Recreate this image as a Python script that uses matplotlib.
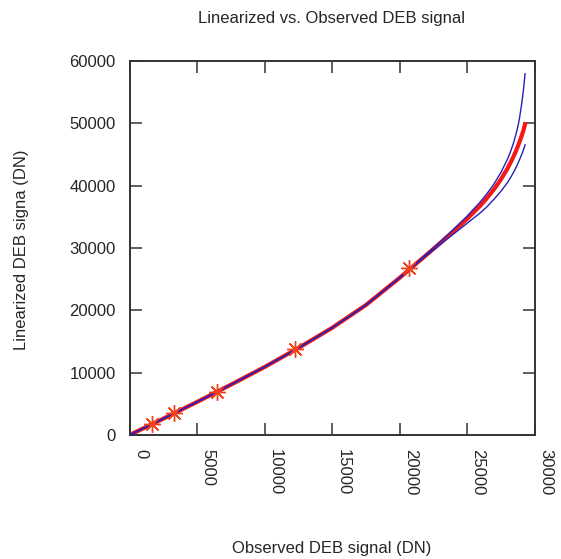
import matplotlib
matplotlib.use("Agg")
import matplotlib.transforms as mtransforms
from matplotlib import pyplot as plt

# points
obs_pts = [1640, 3310, 6450, 12290, 20670]
lin_pts = [1720, 3480, 6950, 13800, 26800]

# fitted curve (red) and the two bounding curves (blue)
obs_fit = [0, 1000, 2500, 5000, 7500, 10000, 12500, 15000, 17500, 20000,
           21000, 22000, 23000, 24000, 25000, 26000, 26500, 27000, 27500,
           28000, 28150, 28300, 28450, 28600, 28700, 28800, 28900, 29000,
           29075, 29150, 29225, 29300]
lin_fit = [0, 1042, 2610, 5300, 8060, 10900, 13940, 17180, 20830, 25200,
           27050, 28900, 30770, 32690, 34650, 36825, 38065, 39425, 40960,
           42760, 43375, 44020, 44700, 45435, 45955, 46500, 47075, 47685,
           48165, 48675, 49240, 49850]
lin_upper = [0, 1042, 2610, 5300, 8060, 10900, 13940, 17180, 20830, 25200,
             27050, 29030, 30950, 32990, 35100, 37425, 38785, 40275, 42060,
             44260, 45055, 45920, 46900, 48035, 48855, 49800, 50975, 52385,
             53515, 54775, 56240, 57950]
lin_lower = [0, 1042, 2610, 5300, 8060, 10900, 13940, 17180, 20830, 25200,
             27050, 28810, 30520, 32240, 33950, 35675, 36665, 37825, 39060,
             40510, 41025, 41570, 42150, 42785, 43235, 43710, 44205, 44735,
             45135, 45565, 46040, 46550]

x_ticks = [0, 5000, 10000, 15000, 20000, 25000, 30000]
y_ticks = [0, 10000, 20000, 30000, 40000, 50000, 60000]

plt.rcParams['font.family'] = ['Liberation Sans', 'DejaVu Sans']
plt.rcParams['font.size'] = 12
text_color = '#262626'

fig = plt.figure(figsize=(5.61, 5.59), dpi=100)
ax = fig.add_axes([129.5 / 561, 124 / 559, 405 / 561, 374 / 559])

ax.plot(obs_fit, lin_fit, color='#f41818', linewidth=3, zorder=2,
        solid_joinstyle='round')
ax.plot(obs_fit, lin_upper, color='#2222b8', linewidth=1, zorder=3)
ax.plot(obs_fit, lin_lower, color='#2222b8', linewidth=1, zorder=3)
ax.plot(obs_pts, lin_pts, linestyle='none', marker=(8, 2, 0), markersize=12,
        markeredgewidth=1.0, color='#f0401c', zorder=4)

ax.set_xlim(0, 30000)
ax.set_ylim(0, 60000)
ax.set_xticks(x_ticks)
ax.set_yticks(y_ticks)
ax.tick_params(axis='both', direction='in', length=8.5, width=1.1,
               top=True, right=True, colors='#333333', labelcolor=text_color,
               labelsize=12)
ax.tick_params(axis='x', pad=10)
ax.tick_params(axis='y', pad=10)

offset = mtransforms.ScaledTranslation(11 / 100, 0, fig.dpi_scale_trans)
for lbl in ax.get_xticklabels():
    lbl.set_rotation(-90)
    lbl.set_transform(lbl.get_transform() + offset)

for sp in ax.spines.values():
    sp.set_linewidth(1.4)
    sp.set_color('#333333')

fig.text(332 / 561, 1 - 18 / 559, "Linearized vs. Observed DEB signal",
         ha='center', va='center', color=text_color, fontsize=12)
fig.text(332 / 561, 1 - 548 / 559, "Observed DEB signal (DN)",
         ha='center', va='center', color=text_color, fontsize=12)
fig.text(22 / 561, 1 - 250 / 559, "Linearized DEB signa (DN)",
         ha='center', va='center', rotation=90, color=text_color, fontsize=12)

fig.savefig("out.png", dpi=100)
